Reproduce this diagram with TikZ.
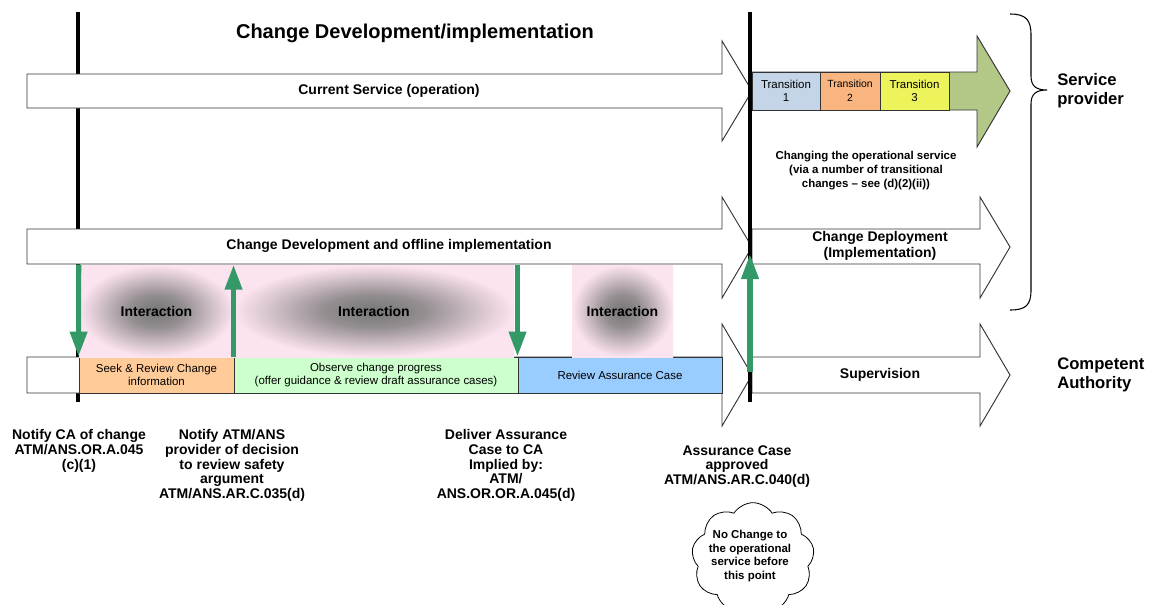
\documentclass[tikz,border=0pt]{standalone}
\usepackage{fontspec}
\setmainfont{Liberation Sans}
\usetikzlibrary{arrows.meta,shapes.symbols}

\definecolor{seekc}{HTML}{FFCC99}
\definecolor{obsc}{HTML}{CCFFCC}
\definecolor{revc}{HTML}{99CCFF}
\definecolor{tonec}{HTML}{C5D5E8}
\definecolor{ttwoc}{HTML}{F9B57F}
\definecolor{tthreec}{HTML}{ECF35B}
\definecolor{headc}{HTML}{B3C886}
\definecolor{hazep}{HTML}{FCE3F0}
\definecolor{hazec}{HTML}{767676}
\definecolor{signal}{RGB}{51,153,102}
\definecolor{edge}{HTML}{333333}

% soft grey spot fading into pink
\pgfdeclareradialshading{hazeshade}{\pgfpoint{0bp}{0bp}}{%
  color(0bp)=(hazec); color(9bp)=(hazec!78!hazep); color(19bp)=(hazec!28!hazep);
  color(25bp)=(hazep); color(50bp)=(hazep)}

\tikzset{
  fat/.style={draw=edge, line width=0.7pt, fill=white, line join=miter},
  cell/.style={draw=edge, line width=0.7pt, inner sep=0pt, align=center,
               font=\fontsize{8.6}{10.2}\selectfont},
  haze/.style={shading=hazeshade, inner sep=0pt,
               font=\bfseries\fontsize{10.5}{12}\selectfont},
  lane/.style={line width=2.3pt, black},
  signalarrow/.style={signal, line width=3.8pt,
               -{Triangle[length=18.75pt,width=12.5pt]}},
  big/.style={font=\bfseries\fontsize{10.5}{12}\selectfont, inner sep=0pt, align=center},
  note/.style={font=\bfseries\fontsize{10.5}{11.1}\selectfont, align=center,
               anchor=north, inner sep=0pt},
  side/.style={font=\bfseries\fontsize{12.5}{14.5}\selectfont, align=left,
               anchor=west, inner sep=0pt},
}

\begin{document}
\begin{tikzpicture}[x=0.75pt,y=-0.75pt]
\useasboundingbox (0,0) rectangle (1153,604);
\fill[white] (0,0) rectangle (1153,604);

% left milestone line (runs behind the bars)
\coordinate (laneAtop) at (78,12);
\coordinate (laneAbot) at (78,402);
\draw[lane] (laneAtop) -- (laneAbot);

% white block arrows
\draw[fat] (27,74) -- (722,74) -- (722,41) -- (752,91) -- (722,141) -- (722,108) -- (27,108) -- cycle;
\draw[fat] (27,229) -- (722,229) -- (722,197) -- (752,247) -- (722,298) -- (722,264) -- (27,264) -- cycle;
\draw[fat] (27,357) -- (722,357) -- (722,324) -- (752,375) -- (722,426) -- (722,393) -- (27,393) -- cycle;
\draw[fat] (752,229) -- (980,229) -- (980,197) -- (1010,247) -- (980,298) -- (980,264) -- (752,264) -- cycle;
\draw[fat] (752,357) -- (980,357) -- (980,324) -- (1010,375) -- (980,426) -- (980,393) -- (752,393) -- cycle;

% transition arrow
\draw[fat, fill=headc] (752,72) -- (977,72) -- (977,36) -- (1010,91) -- (977,147) -- (977,110) -- (752,110) -- cycle;
\node[cell, fill=tonec, minimum width=51pt, minimum height=28.5pt] (tr1) at (786,91) {Transition\\1};
\node[cell, fill=ttwoc, minimum width=45pt, minimum height=28.5pt,
      font=\fontsize{7.8}{10.2}\selectfont] (tr2) at (850,91) {Transition\\2};
\node[cell, fill=tthreec, minimum width=51.75pt, minimum height=28.5pt] (tr3) at (914.5,91) {Transition\\3};

% authority activities in the lower bar
\node[cell, fill=seekc, minimum width=116.25pt, minimum height=27pt] (seek) at (156.5,375) {Seek \& Review Change\\information};
\node[cell, fill=obsc, minimum width=213pt, minimum height=27pt] (obs) at (376,375) {Observe change progress\\(offer guidance \& review draft assurance cases)};
\node[cell, fill=revc, minimum width=153pt, minimum height=27pt] (rev) at (620,375) {Review Assurance Case};

% interaction zones
\node[haze, minimum width=116.25pt, minimum height=69pt] (int1) at (156.5,311) {Interaction};
\node[haze, minimum width=210pt, minimum height=69pt] (int2) at (374,311) {Interaction};
\node[haze, minimum width=75.75pt, minimum height=69pt] (int3) at (622.5,311) {Interaction};

% right milestone line (drawn over the bars)
\coordinate (laneBtop) at (750,12);
\coordinate (laneBbot) at (750,402);
\draw[lane] (laneBtop) -- (laneBbot);

% hand-over arrows
\draw[signalarrow] (int1.north west) -- (seek.north west);
\draw[signalarrow] (obs.north west) -- (obs.north west |- int1.north);
\draw[signalarrow] (rev.north west |- int1.north) -- (rev.north west);
\coordinate (gate) at (750,372);
\coordinate (gatetop) at (750,254);
\draw[signalarrow] (gate) -- (gatetop);

% bar labels
\node[font=\bfseries\fontsize{15}{18}\selectfont, inner sep=0pt] (title) at (415,33) {Change Development/implementation};
\node[big] (current) at (389,91) {Current Service (operation)};
\node[big] (devel) at (389,246) {Change Development and offline implementation};
\node[big] (deploy) at (880,246) {Change Deployment\\(Implementation)};
\node[big] (superv) at (880,375) {Supervision};
\node[font=\bfseries\fontsize{8.6}{10.5}\selectfont, align=center, inner sep=0pt] (changing) at (866,171)
  {Changing the operational service\\(via a number of transitional\\changes -- see (d)(2)(ii))};

% brace and party labels
\draw[line width=0.8pt, black] (1010,14) .. controls (1026,14) and (1031,20) .. (1031,35) -- (1031,76)
  .. controls (1031,86) and (1036,90) .. (1047,90)
  .. controls (1036,90) and (1031,94) .. (1031,104) -- (1031,290)
  .. controls (1031,305) and (1026,310) .. (1010,310);
\node[side] (sp) at (1057,91) {Service\\provider};
\node[side] (ca) at (1057,375) {Competent\\Authority};

% milestone notes
\node[note] (n1) at (79,429) {Notify CA of change\\ATM/ANS.OR.A.045\\(c)(1)};
\node[note] (n2) at (232,429) {Notify ATM/ANS\\provider of decision\\to review safety\\argument\\ATM/ANS.AR.C.035(d)};
\node[note] (n3) at (506,429) {Deliver Assurance\\Case to CA\\Implied by:\\ATM/\\ANS.OR.OR.A.045(d)};
\node[note] (n4) at (737,445) {Assurance Case\\approved\\ATM/ANS.AR.C.040(d)};

% cloud remark
\node[cloud, draw=black, line width=0.6pt, fill=white, cloud puffs=9, cloud puff arc=115, aspect=1.1,
      minimum width=92pt, minimum height=83pt] (cloudnote) at (753,558) {};
\node[font=\bfseries\fontsize{8.6}{10.4}\selectfont, align=center, inner sep=0pt] (cloudtext) at (750,556)
  {No Change to\\the operational\\service before\\this point};
\end{tikzpicture}
\end{document}
